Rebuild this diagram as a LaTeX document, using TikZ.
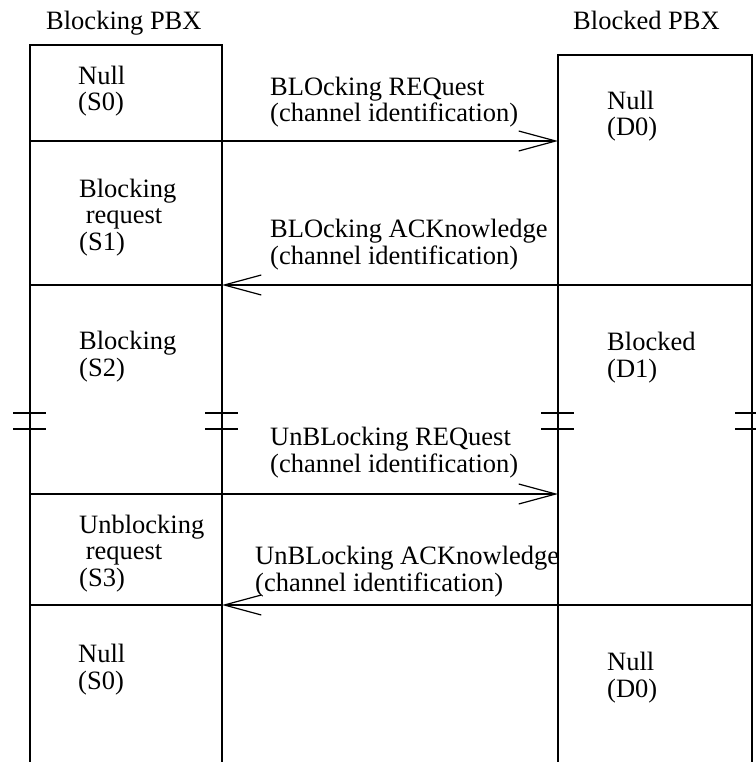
\documentclass[tikz,border=0pt]{standalone}
\usepackage{fontspec}
\setmainfont{Liberation Serif}
\usetikzlibrary{arrows.meta}
\begin{document}
\begin{tikzpicture}[x=1pt,y=-1pt,
  lbl/.style={anchor=base west, inner sep=0pt, align=left, font=\fontsize{26.5}{26.5}\selectfont},
  life/.style={line width=1.2pt},
  msg/.style={line width=1.2pt, -{Straight Barb[length=37pt,width=20pt,line width=1.2pt]}},
  brk/.style={line width=1.2pt}]
\useasboundingbox (0,0) rectangle (755,762);
% lifelines
\coordinate (LTL) at (30,45);  \coordinate (LTR) at (222,45);
\coordinate (LBL) at (30,762); \coordinate (LBR) at (222,762);
\coordinate (RTL) at (558,55); \coordinate (RTR) at (752,55);
\coordinate (RBL) at (558,762);\coordinate (RBR) at (752,762);
\draw[life] (LBL) -- (LTL) -- (LTR) -- (LBR);
\draw[life] (RBL) -- (RTL) -- (RTR) -- (RBR);
% titles
\node[lbl] (t1) at (46,30) {Blocking PBX};
\node[lbl] (t2) at (573,30) {Blocked PBX};
% messages
\coordinate (m1s) at (30,141);  \coordinate (m1e) at (558,141);
\draw[msg] (m1s) -- (m1e);
\coordinate (m2s) at (752,285); \coordinate (m2e) at (222,285); \coordinate (m2l) at (30,285);
\draw[life] (m2e) -- (m2l);
\draw[msg] (m2s) -- (m2e);
\coordinate (m3s) at (30,494);  \coordinate (m3e) at (558,494);
\draw[msg] (m3s) -- (m3e);
\coordinate (m4s) at (752,605); \coordinate (m4e) at (222,605); \coordinate (m4l) at (30,605);
\draw[life] (m4e) -- (m4l);
\draw[msg] (m4s) -- (m4e);
% break marks
\foreach \x in {30,222,558,752}{
  \draw[brk] (\x-17,413) -- (\x+16,413);
  \draw[brk] (\x-17,429) -- (\x+16,429);
}
% state labels (anchor = baseline of last line)
\node[lbl] (s0a) at (78,111)  {Null\\(S0)};
\node[lbl] (s1)  at (79,250) {Blocking\\\ request\\(S1)};
\node[lbl] (s2)  at (79,376) {Blocking\\(S2)};
\node[lbl] (s3)  at (79,586) {Unblocking\\\ request\\(S3)};
\node[lbl] (s0b) at (78,689) {Null\\(S0)};
\node[lbl] (d0a) at (607,136) {Null\\(D0)};
\node[lbl] (d1)  at (607,377) {Blocked\\(D1)};
\node[lbl] (d0b) at (607,697) {Null\\(D0)};
% message labels
\node[lbl] (l1) at (270,122) {BLOcking REQuest\\(channel identification)};
\node[lbl] (l2) at (270,264) {BLOcking ACKnowledge\\(channel identification)};
\node[lbl] (l3) at (270,472) {UnBLocking REQuest\\(channel identification)};
\node[lbl] (l4) at (255,591) {UnBLocking ACKnowledge\\(channel identification)};
\end{tikzpicture}
\end{document}
